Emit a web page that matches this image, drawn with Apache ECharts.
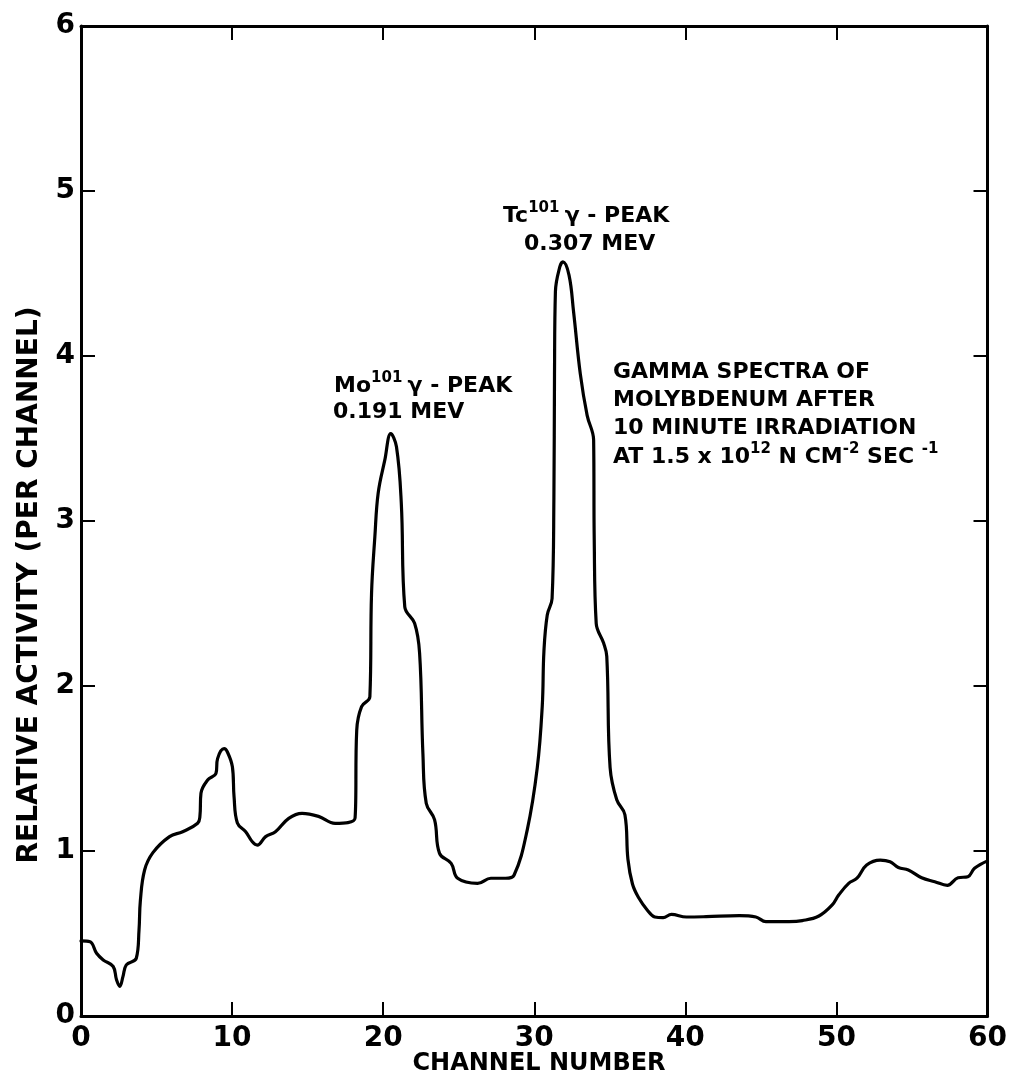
<!DOCTYPE html>
<html>
<head>
<meta charset="utf-8">
<script src="https://cdn.jsdelivr.net/npm/echarts@6/dist/echarts.min.js"></script>
<style>
html,body{margin:0;padding:0;background:#fff;}
#chart{width:1010px;height:1079px;}
</style>
</head>
<body>
<div id="chart"></div>
<script>
// Channel number (x) and relative activity per channel (y)
const channel = [0, 0.6, 1.03, 1.47, 2.13, 2.35, 2.57, 2.78, 3.0, 3.66, 3.84, 3.93, 4.21, 4.76, 5.86, 6.73, 7.72, 7.87, 7.94, 8.38, 8.93, 9.04, 9.47, 9.69, 10.02, 10.13, 10.35, 10.9, 11.34, 11.67, 12.22, 12.87, 13.75, 14.63, 15.72, 16.82, 18.14, 18.25, 18.57, 19.12, 19.23, 19.45, 19.67, 20.11, 20.5, 20.88, 21.2, 21.43, 22.08, 22.41, 22.63, 22.85, 23.4, 23.73, 24.5, 24.93, 26.25, 27.13, 28.1, 28.66, 29.54, 30.2, 30.53, 30.64, 30.86, 31.18, 31.3, 31.34, 31.4, 31.69, 31.9, 32.3, 32.6, 33.05, 33.5, 33.93, 33.97, 34.1, 34.59, 34.8, 35.02, 35.46, 36.0, 36.2, 36.5, 36.89, 37.5, 37.98, 38.53, 39.08, 40.07, 41.38, 43.57, 44.67, 45.33, 46.86, 47.74, 48.84, 49.72, 50.15, 50.81, 51.36, 52.0, 52.9, 53.55, 54.1, 54.76, 55.64, 56.51, 57.34, 58.05, 58.7, 59.14, 60];
const activity = [0.455, 0.45, 0.38, 0.34, 0.30, 0.22, 0.18, 0.24, 0.31, 0.35, 0.52, 0.70, 0.885, 0.99, 1.087, 1.117, 1.168, 1.21, 1.35, 1.43, 1.47, 1.56, 1.62, 1.60, 1.51, 1.33, 1.17, 1.117, 1.056, 1.036, 1.087, 1.117, 1.198, 1.228, 1.21, 1.168, 1.2, 1.733, 1.875, 1.935, 2.56, 2.905, 3.17, 3.37, 3.53, 3.45, 3.107, 2.48, 2.38, 2.2, 1.59, 1.29, 1.19, 0.986, 0.925, 0.835, 0.804, 0.835, 0.835, 0.853, 1.13, 1.505, 1.88, 2.21, 2.43, 2.53, 3.14, 3.89, 4.39, 4.54, 4.57, 4.49, 4.27, 3.89, 3.64, 3.49, 2.885, 2.38, 2.26, 2.18, 1.505, 1.31, 1.22, 0.95, 0.80, 0.72, 0.64, 0.60, 0.596, 0.616, 0.60, 0.602, 0.608, 0.60, 0.572, 0.572, 0.578, 0.606, 0.673, 0.733, 0.804, 0.835, 0.915, 0.945, 0.935, 0.90, 0.885, 0.838, 0.814, 0.792, 0.838, 0.844, 0.895, 0.94];
const xTicks = [0, 10, 20, 30, 40, 50, 60];
const yTicks = [0, 1, 2, 3, 4, 5, 6];

const FONT = 'DejaVu Sans';
const chart = echarts.init(document.getElementById('chart'), null, {renderer: 'canvas'});

const axisLine = {show: true, onZero: false, lineStyle: {color: '#000', width: 3}};
const axisTick = {show: true, inside: true, length: 14, lineStyle: {color: '#000', width: 2}};
const labelStyle = {color: '#000', fontSize: 28, fontWeight: 'bold', fontFamily: FONT};

const rich = {
  n: {fontSize: 22, fontWeight: 'bold', fontFamily: FONT, color: '#000', lineHeight: 30},
  s: {fontSize: 15, fontWeight: 'bold', fontFamily: FONT, color: '#000', lineHeight: 15, verticalAlign: 'top'}
};
function txt(text, x, y) {
  return {
    type: 'text', x: x, y: y, silent: true,
    style: {text: text, rich: rich, align: 'left', verticalAlign: 'middle',
      fontSize: 22, fontWeight: 'bold', fontFamily: FONT, fill: '#000'}
  };
}

chart.setOption({
  animation: false,
  backgroundColor: '#fff',
  grid: {left: 81, right: 17, top: 26, bottom: 63},
  xAxis: [
    {type: 'value', min: xTicks[0], max: xTicks[xTicks.length - 1], interval: 10, position: 'bottom',
      axisLine: axisLine, axisTick: axisTick, splitLine: {show: false},
      axisLabel: Object.assign({margin: 9}, labelStyle)},
    {type: 'value', min: xTicks[0], max: xTicks[xTicks.length - 1], interval: 10, position: 'top',
      axisLine: axisLine, axisTick: axisTick, splitLine: {show: false}, axisLabel: {show: false}}
  ],
  yAxis: [
    {type: 'value', min: yTicks[0], max: yTicks[yTicks.length - 1], interval: 1, position: 'left',
      axisLine: axisLine, axisTick: axisTick, splitLine: {show: false},
      axisLabel: Object.assign({margin: 6}, labelStyle)},
    {type: 'value', min: yTicks[0], max: yTicks[yTicks.length - 1], interval: 1, position: 'right',
      axisLine: axisLine, axisTick: axisTick, splitLine: {show: false}, axisLabel: {show: false}}
  ],
  series: [{
    type: 'line',
    xAxisIndex: 0, yAxisIndex: 0,
    data: channel.map((c, i) => [c, activity[i]]),
    showSymbol: false,
    smooth: 0.4,
    lineStyle: {color: '#000', width: 3.2, join: 'round', cap: 'round'}
  }],
  graphic: [
    txt('{n|Mo}{s|101 }{n|γ - PEAK}', 334, 386),
    txt('{n|0.191 MEV}', 333, 412),
    txt('{n|Tc}{s|101 }{n|γ - PEAK}', 503, 216),
    txt('{n|0.307 MEV}', 524, 244),
    txt('{n|GAMMA SPECTRA OF}', 613, 372),
    txt('{n|MOLYBDENUM AFTER}', 613, 400),
    txt('{n|10 MINUTE IRRADIATION}', 613, 428),
    txt('{n|AT 1.5 x 10}{s|12}{n| N CM}{s|-2}{n| SEC }{s|-1}', 613, 457),
    {type: 'text', x: 539, y: 1064, silent: true,
      style: {text: 'CHANNEL NUMBER', align: 'center', verticalAlign: 'middle',
        fontSize: 24, fontWeight: 'bold', fontFamily: FONT, fill: '#000'}},
    {type: 'text', x: 30, y: 585, rotation: Math.PI / 2, silent: true,
      style: {text: 'RELATIVE ACTIVITY (PER CHANNEL)', align: 'center', verticalAlign: 'middle',
        fontSize: 28, fontWeight: 'bold', fontFamily: FONT, fill: '#000'}}
  ]
});
</script>
</body>
</html>
